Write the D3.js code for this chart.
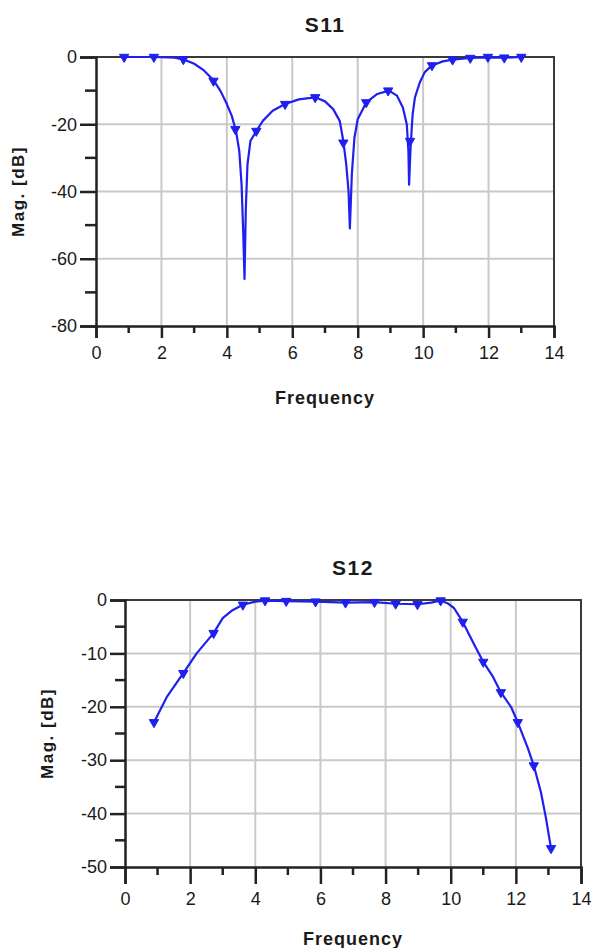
<!DOCTYPE html>
<html>
<head>
<meta charset="utf-8">
<script src="https://cdn.jsdelivr.net/npm/d3@7"></script>
<style>
  body { margin: 0; background: #fff; }
  svg text { font-family: "Liberation Sans", Arial, sans-serif; fill: #1a1a1a; }
</style>
</head>
<body>
<div id="main"></div>
<script>
// values
var freqTicks = [0, 2, 4, 6, 8, 10, 12, 14];
var freqMinor = [1, 3, 5, 7, 9, 11, 13];

var s11Freq = [0.85, 1.8, 2.4, 2.7, 3.0, 3.3, 3.6, 3.8, 4.0, 4.15, 4.28, 4.38, 4.45, 4.5, 4.54,
  4.58, 4.63, 4.72, 4.9, 5.1, 5.4, 5.78, 6.2, 6.7, 7.0, 7.25, 7.45, 7.56, 7.65, 7.72, 7.76,
  7.82, 7.9, 8.0, 8.26, 8.6, 8.95, 9.2, 9.38, 9.5, 9.55, 9.57, 9.62, 9.68, 9.75, 9.9, 10.05,
  10.27, 10.6, 10.9, 11.44, 12, 12.5, 13];
var s11Mag = [0, 0, -0.2, -0.8, -2, -4, -7, -10, -14, -17.5, -22, -28, -38, -52, -66,
  -45, -32, -25, -22, -19, -16, -14, -12.6, -12, -13.2, -15.5, -19, -25, -32, -40, -51,
  -35, -24, -18.5, -13.5, -11, -10, -11.5, -15, -20, -28, -38, -26, -17, -12, -7.5, -4.5,
  -2.5, -1.3, -0.8, -0.3, -0.1, -0.2, 0];
var s11MarkFreq = [0.86, 1.77, 2.67, 3.59, 4.26, 4.9, 5.78, 6.7, 7.56, 8.26, 8.93, 9.6, 10.27, 10.9, 11.44, 11.98, 12.48, 13.0];
var s11MarkMag = [0, 0, -0.7, -7.1, -21.5, -22, -14, -12, -25.5, -13.5, -10, -25, -2.5, -0.8, -0.3, 0, -0.2, 0];
var s11Ticks = [0, -20, -40, -60, -80];
var s11Minor = [-10, -30, -50, -70];

var s12Freq = [0.89, 1.28, 1.79, 2.2, 2.72, 3.0, 3.3, 3.62, 4.0, 4.3, 4.95, 5.85, 6.77, 7.66,
  8.31, 8.98, 9.4, 9.69, 9.9, 10.1, 10.37, 10.7, 11.0, 11.3, 11.54, 11.85, 12.06, 12.37,
  12.55, 12.77, 12.92, 13.08];
var s12Mag = [-22.9, -18.2, -13.7, -10, -6.2, -3.4, -1.9, -0.9, -0.3, -0.1, -0.2, -0.3, -0.5, -0.4,
  -0.7, -0.8, -0.5, -0.1, -0.6, -1.5, -4.1, -8.1, -11.6, -14.4, -17.3, -20, -22.9, -27.8,
  -31, -36, -40.7, -46.5];
var s12MarkFreq = [0.89, 1.79, 2.72, 3.62, 4.3, 4.95, 5.85, 6.77, 7.66, 8.31, 8.98, 9.69, 10.37, 11.0, 11.54, 12.06, 12.55, 13.08];
var s12MarkMag = [-22.9, -13.7, -6.2, -0.9, -0.1, -0.2, -0.3, -0.5, -0.4, -0.7, -0.8, -0.1, -4.1, -11.6, -17.3, -22.9, -31, -46.5];
var s12Ticks = [0, -10, -20, -30, -40, -50];
var s12Minor = [-5, -15, -25, -35, -45];

var svgWidth = 595, svgHeight = 948;
var blue = '#1f1fef';

var svg = d3.select('#main').append('svg')
  .attr('width', svgWidth)
  .attr('height', svgHeight);

// plain hyphen for negatives, like the original
function plainNum(d){ return String(d); }

function drawChart(c){
  var x = d3.scaleLinear().domain([0, 14]).range([c.left, c.right]);
  var y = d3.scaleLinear().domain([0, c.yMin]).range([c.top, c.bottom]);
  var g = svg.append('g');

  // grid
  g.selectAll('.vgrid').data(freqTicks.slice(1, -1)).enter().append('line')
    .attr('x1', d => x(d)).attr('x2', d => x(d))
    .attr('y1', c.top).attr('y2', c.bottom)
    .style('stroke', '#c9c9c9').style('stroke-width', 2);
  g.selectAll('.hgrid').data(c.yTicks.slice(1, -1)).enter().append('line')
    .attr('y1', d => y(d)).attr('y2', d => y(d))
    .attr('x1', c.left).attr('x2', c.right)
    .style('stroke', '#c9c9c9').style('stroke-width', 2);

  // frame top / right
  g.append('path')
    .attr('d', 'M' + c.left + ',' + c.top + 'H' + c.right + 'V' + c.bottom)
    .style('fill', 'none').style('stroke', '#3a3a3a').style('stroke-width', 2);

  // y axis
  var ya = g.append('g').attr('transform', 'translate(' + c.left + ',0)')
    .call(d3.axisLeft(y).tickValues(c.yTicks).tickSize(c.yMajor).tickPadding(3).tickFormat(plainNum));
  ya.append('g').selectAll('line').data(c.yMinorTicks).enter().append('line')
    .attr('x1', -c.yMinorLen).attr('x2', 0)
    .attr('y1', d => y(d)).attr('y2', d => y(d));
  // x axis
  var xa = g.append('g').attr('transform', 'translate(0,' + c.bottom + ')')
    .call(d3.axisBottom(x).tickValues(freqTicks).tickSize(c.xMajor).tickPadding(c.xPad).tickFormat(plainNum));
  xa.append('g').selectAll('line').data(freqMinor).enter().append('line')
    .attr('x1', d => x(d)).attr('x2', d => x(d))
    .attr('y1', 0).attr('y2', c.xMinorLen);

  [ya, xa].forEach(function(a){
    a.selectAll('path').style('stroke', '#222').style('stroke-width', 2.5);
    a.selectAll('line').style('stroke', '#222').style('stroke-width', 2.5);
    a.selectAll('text').style('font-size', '18px').style('font-family', '"Liberation Sans", Arial, sans-serif').style('fill', '#1a1a1a');
  });

  // curve
  var pts = c.freq.map((f, i) => [f, c.mag[i]]);
  g.append('path').datum(pts)
    .attr('d', d3.line().x(d => x(d[0])).y(d => y(d[1])))
    .style('fill', 'none').style('stroke', blue).style('stroke-width', 2.2)
    .style('stroke-linejoin', 'round');

  var marks = c.markFreq.map((f, i) => [f, c.markMag[i]]);
  g.selectAll('.mark').data(marks).enter().append('path')
    .attr('d', d3.symbol().type(d3.symbolTriangle).size(38))
    .attr('transform', d => 'translate(' + x(d[0]) + ',' + y(d[1]) + ') rotate(180)')
    .style('fill', blue).style('stroke', blue).style('stroke-width', 1);

  // texts
  g.append('text').text(c.title)
    .attr('x', (c.left + c.right) / 2).attr('y', c.top - 25)
    .attr('text-anchor', 'middle')
    .style('font-size', '21px').style('font-weight', 'bold').style('letter-spacing', '1.5px');
  g.append('text').text('Frequency')
    .attr('x', (c.left + c.right) / 2).attr('y', c.bottom + c.xTitle)
    .attr('text-anchor', 'middle')
    .style('font-size', '18px').style('font-weight', 'bold').style('letter-spacing', '1px');
  g.append('text').text('Mag. [dB]')
    .attr('transform', 'translate(' + c.yTitleX + ',' + (c.top + c.bottom) / 2 + ') rotate(-90)')
    .attr('text-anchor', 'middle')
    .style('font-size', '17px').style('font-weight', 'bold').style('letter-spacing', '1.5px');
}

drawChart({
  title: 'S11', left: 96, right: 554, top: 57, bottom: 326, yMin: -80,
  yTicks: s11Ticks, yMinorTicks: s11Minor, yMajor: 16, yMinorLen: 11,
  xMajor: 12, xMinorLen: 7, xPad: 8, xTitle: 78, yTitleX: 24,
  freq: s11Freq, mag: s11Mag, markFreq: s11MarkFreq, markMag: s11MarkMag
});

drawChart({
  title: 'S12', left: 125, right: 581, top: 600, bottom: 867, yMin: -50,
  yTicks: s12Ticks, yMinorTicks: s12Minor, yMajor: 15, yMinorLen: 10,
  xMajor: 17, xMinorLen: 8, xPad: 8, xTitle: 78, yTitleX: 53,
  freq: s12Freq, mag: s12Mag, markFreq: s12MarkFreq, markMag: s12MarkMag
});
</script>
</body>
</html>
